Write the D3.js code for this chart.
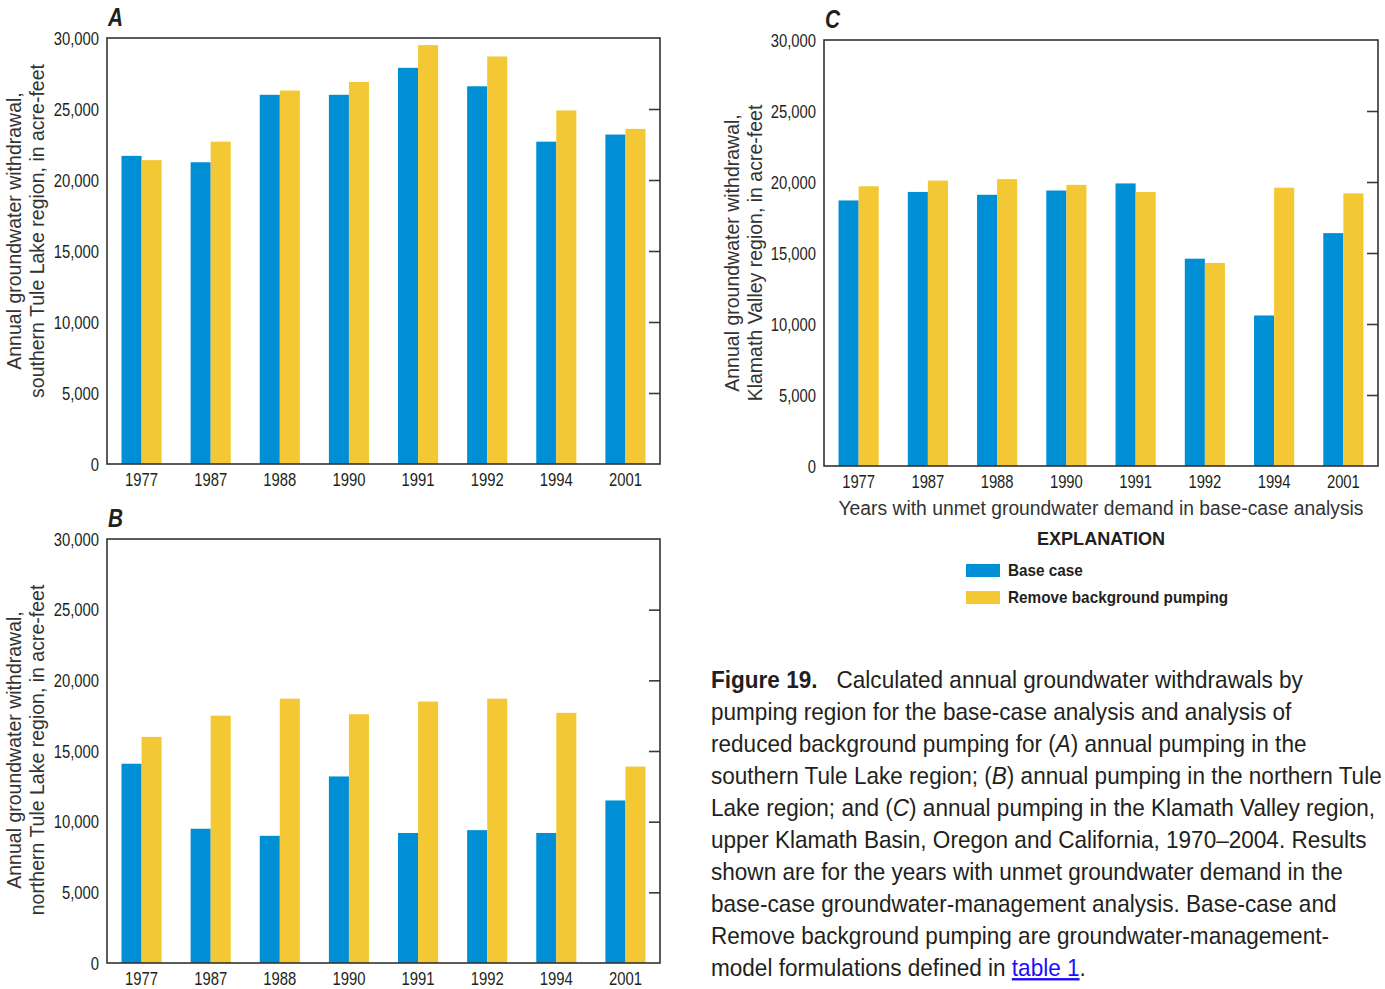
<!DOCTYPE html>
<html>
<head>
<meta charset="utf-8">
<script src="https://cdn.jsdelivr.net/npm/d3@7"></script>
<style>
  html, body { margin: 0; padding: 0; background: #fff; }
  svg { display: block; }
  .sans { font-family: "Liberation Sans", Arial, Helvetica, sans-serif; }
</style>
</head>
<body>
<svg id="fig" width="1385" height="989"></svg>
<script>
// Years with unmet groundwater demand in the base-case analysis
const years = ["1977", "1987", "1988", "1990", "1991", "1992", "1994", "2001"];

// Annual groundwater withdrawal, acre-feet
const southTuleBase   = [21700, 21250, 26000, 26000, 27900, 26600, 22700, 23200];
const southTuleRemove = [21400, 22700, 26300, 26900, 29500, 28700, 24900, 23600];
const northTuleBase   = [14100,  9500,  9000, 13200,  9200,  9400,  9200, 11500];
const northTuleRemove = [16000, 17500, 18700, 17600, 18500, 18700, 17700, 13900];
const klamathBase     = [18700, 19300, 19100, 19400, 19900, 14600, 10600, 16400];
const klamathRemove   = [19700, 20100, 20200, 19800, 19300, 14300, 19600, 19200];

const yTicks = [0, 5000, 10000, 15000, 20000, 25000, 30000];
const yTickLabels = ["0", "5,000", "10,000", "15,000", "20,000", "25,000", "30,000"];

const seriesNames = ["Base case", "Remove background pumping"];
const seriesColors = ["#008fd4", "#f4c834"];

const ink = "#231f20";
const svg = d3.select("#fig");

// Squeeze single-run text horizontally to imitate a condensed typeface.
function condense(sel, f) {
  sel.each(function () {
    const w = this.getComputedTextLength();
    d3.select(this).attr("textLength", w * f).attr("lengthAdjust", "spacingAndGlyphs");
  });
}

function drawPanel(cfg) {
  const { letter, left, right, top, bottom, base, remove, title, xTitle } = cfg;
  const g = svg.append("g");

  const x = d3.scaleBand().domain(years).range([left, right])
    .paddingInner(0.42).paddingOuter(0.21);
  const xs = d3.scaleBand().domain([0, 1]).range([0, x.bandwidth()]);
  const y = d3.scaleLinear().domain([0, 30000]).range([bottom, top]);

  // bars
  const rows = years.map((yr, i) => ({ yr, vals: [base[i], remove[i]] }));
  g.append("g").selectAll("g").data(rows).join("g")
    .attr("transform", d => `translate(${x(d.yr)},0)`)
    .selectAll("rect").data(d => d.vals.map((v, k) => ({ v, k }))).join("rect")
    .attr("x", d => xs(d.k))
    .attr("width", xs.bandwidth())
    .attr("y", d => y(d.v))
    .attr("height", d => y(0) - y(d.v))
    .attr("fill", d => seriesColors[d.k]);

  // inward ticks on the right edge
  const rightAxis = d3.axisRight(y).tickValues(yTicks.slice(1, -1))
    .tickSize(-11).tickFormat("");
  const ra = g.append("g").attr("transform", `translate(${right},0)`).call(rightAxis);
  ra.select(".domain").remove();
  ra.selectAll("line").attr("stroke", "#3a3a3a").attr("stroke-width", 1.6);

  // left labels
  const leftAxis = d3.axisLeft(y).tickValues(yTicks).tickSize(0).tickPadding(8)
    .tickFormat((d, i) => yTickLabels[i]);
  const la = g.append("g").attr("transform", `translate(${left},0)`).call(leftAxis);
  la.select(".domain").remove();
  la.attr("font-family", null).attr("font-size", null);
  la.selectAll("text").attr("class", "sans").attr("font-size", 19).attr("fill", ink)
    .call(condense, 0.78);

  // category labels
  const bottomAxis = d3.axisBottom(x).tickSize(0).tickPadding(9);
  const ba = g.append("g").attr("transform", `translate(0,${bottom})`).call(bottomAxis);
  ba.select(".domain").remove();
  ba.attr("font-family", null).attr("font-size", null);
  ba.selectAll("text").attr("class", "sans").attr("font-size", 19).attr("fill", ink)
    .call(condense, 0.78);

  // frame
  g.append("rect").attr("x", left).attr("y", top)
    .attr("width", right - left).attr("height", bottom - top)
    .attr("fill", "none").attr("stroke", "#333").attr("stroke-width", 1.6);

  // panel letter
  g.append("text").attr("class", "sans")
    .attr("x", left + 1).attr("y", top - 12)
    .attr("font-size", 26).attr("font-weight", "bold").attr("font-style", "italic")
    .attr("fill", ink).text(letter)
    .call(condense, 0.8);

  // y title, two lines
  const t = g.append("text").attr("class", "sans")
    .attr("transform", `translate(${cfg.titleX},${cfg.titleY}) rotate(-90)`)
    .attr("text-anchor", "middle").attr("font-size", 19.5).attr("fill", "#333");
  t.append("tspan").attr("x", 0).attr("dy", 0).text(title[0]);
  t.append("tspan").attr("x", 0).attr("dy", 23).text(title[1]);

  if (xTitle) {
    g.append("text").attr("class", "sans")
      .attr("transform", `translate(${(left + right) / 2},${bottom + 49}) scale(0.92,1)`)
      .attr("text-anchor", "middle").attr("font-size", 21).attr("fill", "#333")
      .text(xTitle);
  }
}

drawPanel({
  letter: "A", left: 107, right: 660, top: 38, bottom: 464,
  base: southTuleBase, remove: southTuleRemove, titleX: 21, titleY: 231,
  title: ["Annual groundwater withdrawal,", "southern Tule Lake region, in acre-feet"]
});
drawPanel({
  letter: "B", left: 107, right: 660, top: 539, bottom: 963,
  base: northTuleBase, remove: northTuleRemove, titleX: 21, titleY: 750,
  title: ["Annual groundwater withdrawal,", "northern Tule Lake region, in acre-feet"]
});
drawPanel({
  letter: "C", left: 824, right: 1378, top: 40, bottom: 466,
  base: klamathBase, remove: klamathRemove, titleX: 739, titleY: 253,
  title: ["Annual groundwater withdrawal,", "Klamath Valley region, in acre-feet"],
  xTitle: "Years with unmet groundwater demand in base-case analysis"
});

// explanation
const leg = svg.append("g");
leg.append("text").attr("class", "sans")
  .attr("x", 1101).attr("y", 545).attr("text-anchor", "middle")
  .attr("font-size", 19).attr("font-weight", "bold").attr("fill", ink)
  .text("EXPLANATION")
  .call(condense, 0.95);
const items = leg.selectAll("g.item").data(seriesNames).join("g")
  .attr("class", "item")
  .attr("transform", (d, i) => `translate(966,${564 + i * 27})`);
items.append("rect").attr("width", 34).attr("height", 13)
  .attr("fill", (d, i) => seriesColors[i]);
items.append("text").attr("class", "sans")
  .attr("x", 42).attr("y", 12)
  .attr("font-size", 17).attr("font-weight", "bold").attr("fill", ink)
  .text(d => d)
  .call(condense, 0.9);

// caption: each line is a text run squeezed with a horizontal scale;
// a segment may carry an extra lead-in space (dx)
const captionLines = [
  [["b", "Figure 19."], ["", "Calculated annual groundwater withdrawals by", 19]],
  [["", "pumping region for the base-case analysis and analysis of"]],
  [["", "reduced background pumping for ("], ["i", "A"], ["", ") annual pumping in the"]],
  [["", "southern Tule Lake region; ("], ["i", "B"], ["", ") annual pumping in the northern Tule"]],
  [["", "Lake region; and ("], ["i", "C"], ["", ") annual pumping in the Klamath Valley region,"]],
  [["", "upper Klamath Basin, Oregon and California, 1970\u20132004. Results"]],
  [["", "shown are for the years with unmet groundwater demand in the"]],
  [["", "base-case groundwater-management analysis. Base-case and"]],
  [["", "Remove background pumping are groundwater-management-"]],
  [["", "model formulations defined in "], ["a", "table 1"], ["", "."]]
];
const capScale = 0.94;
const cap = svg.append("g");
captionLines.forEach((segs, i) => {
  const t = cap.append("text").attr("class", "sans")
    .attr("transform", `translate(711,${688 + i * 32}) scale(${capScale},1)`)
    .attr("x", 0).attr("y", 0)
    .attr("font-size", 24).attr("fill", ink)
    .attr("xml:space", "preserve");
  segs.forEach(([kind, str, lead]) => {
    const s = t.append("tspan").text(str);
    if (lead) s.attr("dx", lead / capScale);
    if (kind === "b") s.attr("font-weight", "bold");
    if (kind === "i") s.attr("font-style", "italic");
    if (kind === "a") s.attr("fill", "#1a0dff").attr("text-decoration", "underline");
  });
});
</script>
</body>
</html>
